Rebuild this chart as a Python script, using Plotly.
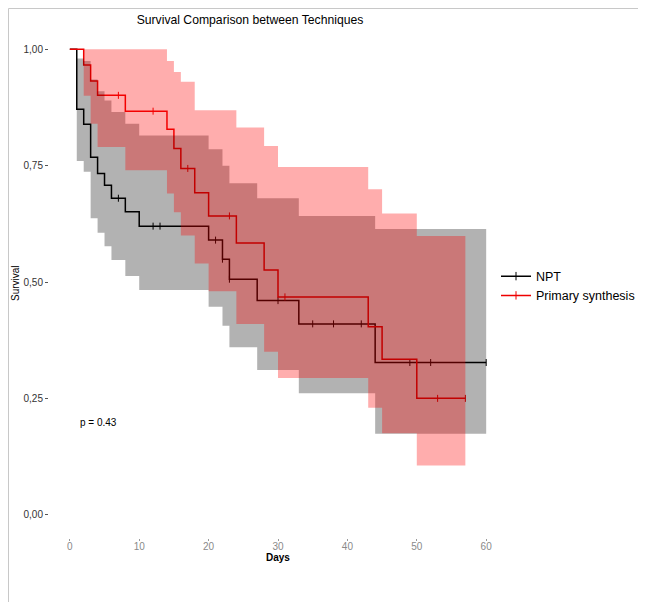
import plotly.graph_objects as go

# ---------------- data ----------------
# NPT group: step times, survival, confidence band
npt_time = [0, 1, 2, 3, 4, 5, 6, 8, 10, 20, 22, 23, 27, 33, 44, 60]
npt_surv = [1.0, 0.871, 0.839, 0.768, 0.733, 0.708, 0.680, 0.651, 0.620, 0.590,
            0.549, 0.506, 0.460, 0.410, 0.327, 0.327]
npt_upper = [1.0, 0.98, 0.975, 0.935, 0.91, 0.89, 0.865, 0.84, 0.815, 0.785,
             0.75, 0.712, 0.68, 0.642, 0.614, 0.614]
npt_lower = [1.0, 0.76, 0.737, 0.637, 0.606, 0.577, 0.547, 0.513, 0.483, 0.447,
             0.406, 0.36, 0.311, 0.261, 0.174, 0.174]
npt_censor = [7, 12, 13, 21, 22, 23, 30, 35, 38, 42, 49, 52, 60]

# Primary synthesis group
ps_time = [0, 2, 3, 4, 8, 14, 15, 16, 18, 20, 24, 28, 30, 43, 45, 50, 57]
ps_surv = [1.0, 0.966, 0.932, 0.901, 0.867, 0.828, 0.787, 0.744, 0.692, 0.642,
           0.584, 0.526, 0.468, 0.404, 0.334, 0.25, 0.25]
ps_upper = [1.0, 1.0, 1.0, 1.0, 1.0, 0.975, 0.951, 0.930, 0.869, 0.869,
            0.832, 0.792, 0.747, 0.699, 0.647, 0.599, 0.599]
ps_lower = [1.0, 0.90, 0.84, 0.79, 0.74, 0.69, 0.65, 0.60, 0.54, 0.48,
            0.41, 0.35, 0.294, 0.23, 0.175, 0.106, 0.106]
ps_censor = [7, 12, 17, 23, 31, 53, 57]

group_names = ["NPT", "Primary synthesis"]
line_colors = ["#000000", "#ee0000"]
band_colors = ["rgba(0,0,0,0.30)", "rgba(255,0,0,0.32)"]

y_tickvals = [0, 0.25, 0.5, 0.75, 1.0]
y_ticktext = ["0,00", "0,25", "0,50", "0,75", "1,00"]
x_tickvals = [0, 10, 20, 30, 40, 50, 60]

p_value_text = "p = 0.43"
title_text = "Survival Comparison between Techniques"

FONT = "Liberation Sans, Arial, sans-serif"


def step_value(times, values, t):
    v = values[0]
    for ti, vi in zip(times, values):
        if ti <= t:
            v = vi
    return v


groups = [
    (npt_time, npt_surv, npt_upper, npt_lower, npt_censor),
    (ps_time, ps_surv, ps_upper, ps_lower, ps_censor),
]

fig = go.Figure()

# step lines and censor marks first (bands are drawn over them, as in the original)
for (t, s, up, lo, cen), name, col in zip(groups, group_names, line_colors):
    fig.add_trace(go.Scatter(
        x=t, y=s, mode="lines", line=dict(color=col, width=1.5, shape="hv"),
        showlegend=False, hoverinfo="skip"))
    fig.add_trace(go.Scatter(
        x=cen, y=[step_value(t, s, c) for c in cen], mode="markers",
        marker=dict(symbol="line-ns", size=5, line=dict(color=col, width=1)),
        showlegend=False, hoverinfo="skip"))

# confidence bands
for (t, s, up, lo, cen), name, bc in zip(groups, group_names, band_colors):
    fig.add_trace(go.Scatter(
        x=t, y=lo, mode="lines", line=dict(width=0, shape="hv"),
        showlegend=False, hoverinfo="skip"))
    fig.add_trace(go.Scatter(
        x=t, y=up, mode="lines", line=dict(width=0, shape="hv"),
        fill="tonexty", fillcolor=bc, showlegend=False, hoverinfo="skip"))

# legend entries
for name, col in zip(group_names, line_colors):
    fig.add_trace(go.Scatter(
        x=[None], y=[None], mode="lines+markers", name=name,
        line=dict(color=col, width=1.5),
        marker=dict(symbol="line-ns", size=6, line=dict(color=col, width=1))))

# page is drawn with an 8px body margin, so figure px = page px - 8
W, H = 638, 594
L, R, T, B = 41, 139, 18, 64
pw, ph = W - L - R, H - T - B


def px_to_paper_x(px):
    return (px - L) / pw


def px_to_paper_y(py):
    return (H - B - py) / ph


fig.update_layout(
    width=W, height=H,
    margin=dict(l=L, r=R, t=T, b=B, autoexpand=False),
    paper_bgcolor="white", plot_bgcolor="white",
    font=dict(family=FONT, size=10, color="#333333"),
    showlegend=True,
    legend=dict(x=px_to_paper_x(488), y=px_to_paper_y(278), xanchor="left",
                yanchor="middle", bgcolor="rgba(0,0,0,0)", traceorder="normal",
                font=dict(family=FONT, size=12.5, color="#000000"),
                itemwidth=30, tracegroupgap=0),
    title=dict(text=title_text, x=242 / W, xanchor="center",
               y=1 - 12 / H, yanchor="middle",
               font=dict(family=FONT, size=12.2, color="#000000")),
    xaxis=dict(range=[-3, 63], tickvals=x_tickvals, showgrid=False,
               zeroline=False, showline=False, ticks="outside", ticklen=2,
               tickcolor="#999999", ticklabelstandoff=-3,
               tickfont=dict(color="#8a8a8a", size=10)),
    yaxis=dict(range=[-0.05, 1.05], tickvals=y_tickvals, ticktext=y_ticktext,
               showgrid=False, zeroline=False, showline=False, ticks="outside",
               ticklen=3, tickcolor="#555555",
               tickfont=dict(color="#333333", size=10)),
)

# axis titles
fig.add_annotation(text="<b>Days</b>", x=0.5, y=px_to_paper_y(549),
                   xref="paper", yref="paper", showarrow=False,
                   xanchor="center", yanchor="middle",
                   font=dict(family=FONT, size=10, color="#000000"))
fig.add_annotation(text="Survival", x=px_to_paper_x(7), y=px_to_paper_y(275),
                   xref="paper", yref="paper", showarrow=False, textangle=-90,
                   xanchor="center", yanchor="middle",
                   font=dict(family=FONT, size=10, color="#000000"))
# p-value
fig.add_annotation(text=p_value_text, x=1.2, y=0.198, xref="x", yref="y",
                   showarrow=False, xanchor="left", yanchor="middle",
                   font=dict(family=FONT, size=10, color="#000000"))

# outer frame (left and top edges)
fig.add_shape(type="line", xref="paper", yref="paper",
              x0=px_to_paper_x(0.5), x1=px_to_paper_x(0.5),
              y0=px_to_paper_y(0.5), y1=px_to_paper_y(594),
              line=dict(color="#c8c8c8", width=1))
fig.add_shape(type="line", xref="paper", yref="paper",
              x0=px_to_paper_x(0.5), x1=px_to_paper_x(638),
              y0=px_to_paper_y(0.5), y1=px_to_paper_y(0.5),
              line=dict(color="#c8c8c8", width=1))

fig.write_html("out.html")
